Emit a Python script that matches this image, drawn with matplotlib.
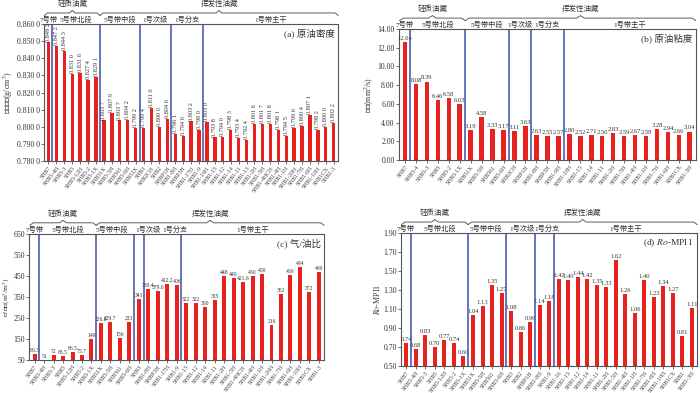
import matplotlib
matplotlib.use("Agg")
import matplotlib.pyplot as plt

plt.rcParams["font.family"] = ["Liberation Serif", "Noto Sans CJK SC"]
plt.rcParams["mathtext.fontset"] = "stix"

zones = ["7号带", "5号带北段", "5号带中段", "1号次级", "1号分支", "1号带主干"]
types = ["轻质油藏", "挥发性油藏"]

# (a) 原油密度
dens_wells = ["SHB7", "SHB5-4H", "SHB5-3", "SHB5", "SHB5-12H", "SHB5-2", "SHB5-1X",
              "SHB51X", "SHB5-5H", "SHB561", "SHB5-6H", "SHB53X",
              "SHB3", "SHB2CH", "SHB2", "SHBP1H",
              "SHB1-8H", "SHBP3H", "SHB1-17H", "SHB1-9",
              "SHB1-16H", "SHB1-15", "SHB1-12", "SHB1-14", "SHB1-11", "SHB1-13", "SHB1-2H",
              "SHB1-5H", "SHB1-4HCH", "SHB1-4H", "SHB1-1H", "SHB1-20H", "SHB1-7H", "SHB1-6H",
              "SHB1-10H", "SHB1CX", "SHB1-3"]
dens_vals = [0.8492, 0.8472, 0.8443, 0.8310, 0.8316, 0.8274, 0.8291,
             0.8037, 0.8079, 0.8037, 0.8042, 0.7992,
             0.7994, 0.8110, 0.8000, 0.8046,
             0.7961, 0.7946, 0.8032, 0.7980,
             0.8030, 0.7938, 0.7940, 0.7983, 0.7934, 0.7924, 0.8016,
             0.8017, 0.8018, 0.7981, 0.7945, 0.7996, 0.8004, 0.8071,
             0.7982, 0.8000, 0.8022]
dens_sizes = [1, 6, 5, 4, 4, 17]

# (b) 原油粘度
visc_wells = ["SHB7", "SHB5-4", "SHB5-3", "SHB5", "SHB5-2", "SHB5-1X",
              "SHB51X", "SHB5-5H", "SHB561", "SHB5-6H",
              "SHB2CH", "SHBP1H",
              "SHB1-8H", "SHBP3H", "SHB1-9H",
              "SHB1-16H", "SHB1-15", "SHB1-14", "SHB1-11", "SHB1-2H", "SHB1-5H",
              "SHB1-4H", "SHB1-1H", "SHB1-7H", "SHB1-6H", "SHB1CX", "SHB1-3H"]
visc_vals = [12.64, 8.08, 8.39, 6.46, 6.58, 6.03,
             3.19, 4.58, 3.33, 3.17,
             3.11, 3.63,
             2.63, 2.55, 2.57,
             2.80, 2.52, 2.71, 2.56, 2.83, 2.59, 2.67, 2.58, 3.28, 2.94, 2.66, 3.04]
visc_sizes = [1, 5, 4, 2, 3, 12]

# (c) 气/油比
gor_wells = ["SHB7", "SHB5-4H", "SHB5-3", "SHB5", "SHB5-12H", "SHB5-2", "SHB5-1X",
             "SHB51X", "SHB5-5H", "SHB561", "SHB5-6H",
             "SHB3",
             "SHB1-8H", "SHBP3H", "SHB1-17H", "SHB1-9",
             "SHB1-15", "SHB1-12", "SHB1-14", "SHB1-11", "SHB1-2H", "SHB1-5H", "SHB1-4HCH",
             "SHB1-4H", "SHB1-1H", "SHB1-20H", "SHB1-7H", "SHB1-6H", "SHB1-10H", "SHB1CX", "SHB1-3"]
gor_vals = [80.3, 51, 72, 68.5, 86.5, 75.7, 149,
            226.8, 229.7, 156, 233,
            341,
            389.4, 379.6, 412.2, 406,
            322, 322, 300, 335, 448, 440, 421.6, 450, 459, 216, 362, 456, 494, 372, 469]
gor_sizes = [1, 6, 4, 1, 4, 15]

# (d) Ro-MPI1
ro_wells = ["SHB7", "SHB5-4H", "SHB5-3", "SHB5", "SHB5-12H", "SHB5-2", "SHB5-1X",
            "SHB51X", "SHB5-5H", "SHB561", "SHB5-6H",
            "SHB3", "SHB2", "SHBP1H",
            "SHB1-8H", "SHB1-9",
            "SHB1-16", "SHB1-15", "SHB1-12", "SHB1-14", "SHB1-11", "SHB1-2H", "SHB1-5H",
            "SHB1-4H", "SHB1-1H", "SHB1-7H", "SHB1-6H", "SHB1-10H", "SHB1CX", "SHB1", "SHB1-3H"]
ro_vals = [0.74, 0.68, 0.83, 0.70, 0.77, 0.74, 0.60,
           1.04, 1.13, 1.35, 1.27,
           1.08, 0.86, 0.96,
           1.14, 1.18,
           1.42, 1.40, 1.44, 1.42, 1.35, 1.33, 1.62, 1.26, 1.06, 1.40, 1.23, 1.34, 1.27, 0.81, 1.11]
ro_sizes = [1, 6, 4, 3, 2, 15]

RED = "#e8221e"
BLUE = "#3d4ea3"
GREY = "#555555"
TXT = "#333333"


def dens_fmt(v):
    s = f"{v:.4f}"
    return s[:-1] + " " + s[-1]


def brace(ax, x0, x1, yb, h, text, fs):
    """brace above the axes, yb and h in axes fraction"""
    tr = ax.get_xaxis_transform()
    xm = (x0 + x1) / 2
    d = 0.35
    xs = [x0, x0 + d, xm - d, xm, xm + d, x1 - d, x1]
    ys = [yb - h, yb, yb, yb + h, yb, yb, yb - h]
    ax.plot(xs, ys, color="#444444", lw=0.6, transform=tr, clip_on=False)
    ax.text(xm, yb + 2.4 * h, text, transform=tr, ha="center", va="bottom",
            fontsize=fs, color=TXT)


def panel(rect, wells, vals, sizes, ylim, yticks, tick_fmt, val_fmt, ylabel, title,
          vertical=False, val_fs=4.7, label_shift=None, ylab_fs=5.8):
    ax = fig.add_axes(rect)
    n = len(wells)
    x = list(range(n))
    base = ylim[0]
    ax.bar(x, [v - base for v in vals], bottom=base, width=0.42, color=RED, zorder=2)
    ax.set_xlim(-0.55, n - 0.45)
    ax.set_ylim(*ylim)
    ax.set_yticks(yticks)
    ax.set_yticklabels([tick_fmt(t) for t in yticks], fontsize=5.6, color=TXT)
    ax.set_xticks(x)
    ax.set_xticklabels(wells, rotation=52, ha="right", rotation_mode="anchor",
                       fontsize=4.2, color="#444444")
    ax.tick_params(axis="both", length=2, width=0.6, color=GREY, pad=1.2)
    for s in ax.spines.values():
        s.set_color(GREY)
        s.set_linewidth(0.8)
    ax.set_ylabel(ylabel, fontsize=ylab_fs, color=TXT, labelpad=1.0)
    span = ylim[1] - ylim[0]
    for xi, v in zip(x, vals):
        if vertical:
            ax.text(xi, v + span * 0.006, val_fmt(v), rotation=90, ha="center",
                    va="bottom", fontsize=val_fs, color=TXT)
        else:
            ax.text(xi, v + span * 0.008, val_fmt(v), ha="center", va="bottom",
                    fontsize=val_fs, color=TXT)
    ax.text(0.988, 0.965, title, transform=ax.transAxes, ha="right", va="top",
            fontsize=6.8, color=TXT)

    # zone separators and names
    hpx = rect[3] * 393
    edges = [-0.55]
    pos = 0
    for k in sizes[:-1]:
        pos += k
        ax.axvline(pos - 0.5, color=BLUE, lw=1.1, zorder=3)
        edges.append(pos - 0.5)
    edges.append(n - 0.45)
    shift = label_shift or [0] * len(zones)
    tr = ax.get_xaxis_transform()
    for i, name in enumerate(zones):
        ax.text((edges[i] + edges[i + 1]) / 2 + shift[i], 1 + 1.0 / hpx, name,
                transform=tr, ha="center", va="bottom", fontsize=5.2, color=TXT)
    split = edges[2]
    yb = 1 + 11 / hpx
    h = 2.5 / hpx
    brace(ax, -0.5, split, yb, h, types[0], 5.4)
    brace(ax, split, n - 0.45, yb, h, types[1], 5.4)
    return ax


fig = plt.figure(figsize=(7, 3.93), dpi=100)

panel([0.063, 0.590, 0.420, 0.349], dens_wells, dens_vals, dens_sizes,
      (0.78, 0.86), [0.78 + 0.01 * i for i in range(9)], dens_fmt, dens_fmt,
      "原油密度(g/cm$^3$)", "(a) 原油密度", vertical=True, val_fs=4.5)

panel([0.570, 0.593, 0.424, 0.333], visc_wells, visc_vals, visc_sizes,
      (0, 14), [2 * i for i in range(8)], lambda t: f"{t:.2f}", lambda v: f"{v:.2f}",
      "粘度(mm$^2$/s)", "(b) 原油粘度")

panel([0.042, 0.084, 0.421, 0.321], gor_wells, gor_vals, gor_sizes,
      (50, 650), [50 + 100 * i for i in range(7)], lambda t: f"{t:d}", lambda v: f"{v:g}",
      "气/油比(m$^3$/m$^3$)", "(c) 气/油比", val_fs=4.1,
      label_shift=[0, 0, -0.4, 1.0, 1.3, 0], ylab_fs=5.4)

panel([0.573, 0.069, 0.423, 0.338], ro_wells, ro_vals, ro_sizes,
      (0.5, 1.9), [0.5 + 0.2 * i for i in range(8)], lambda t: f"{t:.2f}", lambda v: f"{v:.2f}",
      "$Ro$-MPI1", "(d) $Ro$-MPI1", label_shift=[0, 0, -0.2, 0.1, 0.3, 0])

fig.savefig("out.png", dpi=100)
